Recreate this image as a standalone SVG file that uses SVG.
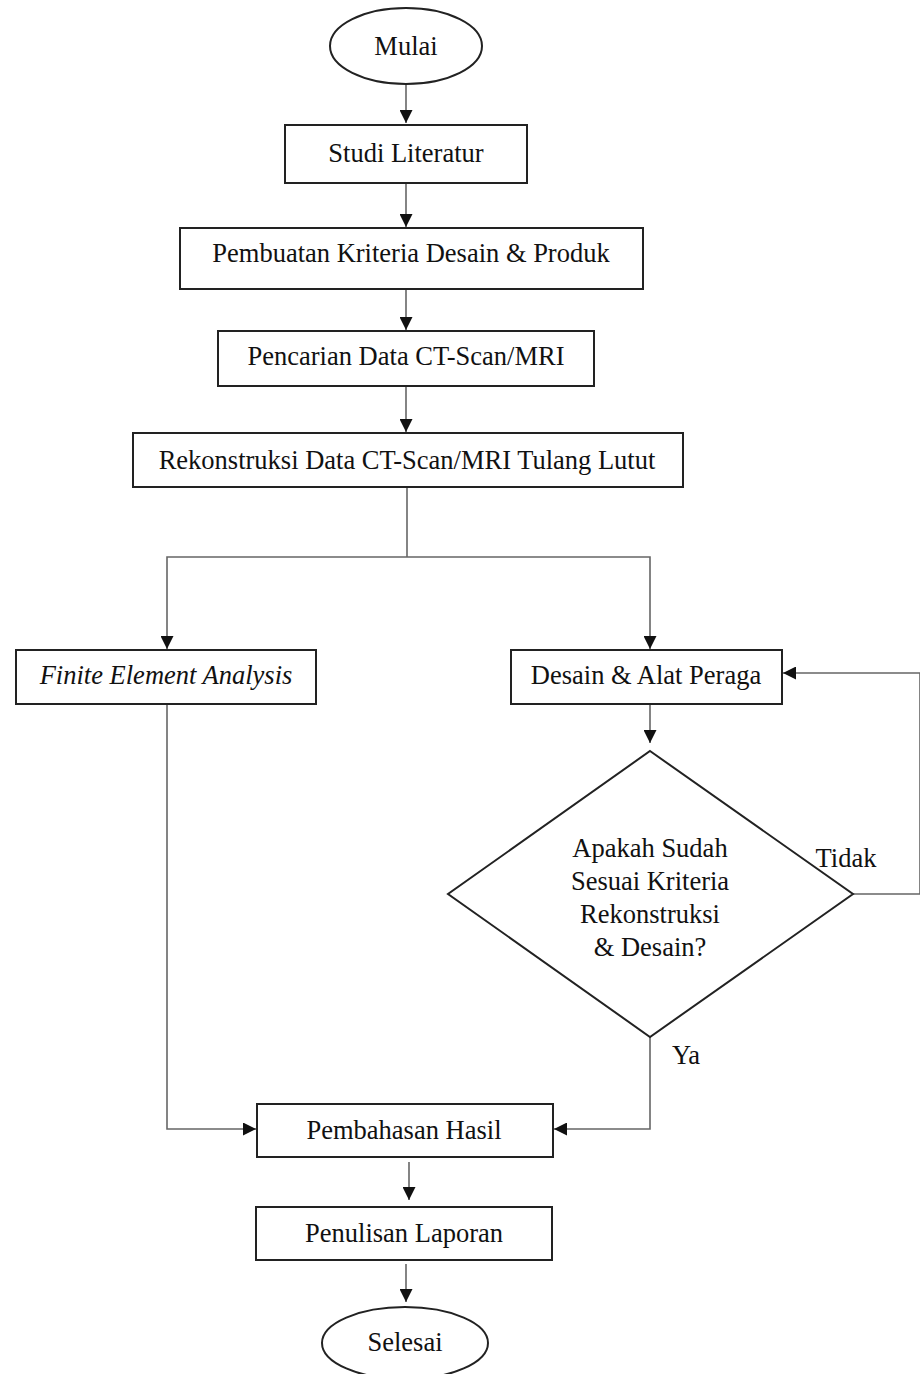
<svg xmlns="http://www.w3.org/2000/svg" width="920" height="1374" viewBox="0 0 920 1374">
<style>
.box{fill:#fff;stroke:#222;stroke-width:2}
.t{font-family:"Liberation Serif","Times New Roman",serif;font-size:26.5px;fill:#111;text-anchor:middle;dominant-baseline:central}
.c{fill:none;stroke:#666;stroke-width:1.6}
</style>
<defs>
<marker id="ah" viewBox="0 0 10 10" refX="10" refY="5" markerWidth="13" markerHeight="13" markerUnits="userSpaceOnUse" orient="auto">
<path d="M0,0 L10,5 L0,10 Z" fill="#111"/>
</marker>
</defs>
<rect width="920" height="1374" fill="#fff"/>
<g id="connectors">
<path class="c" d="M406,84 V123" marker-end="url(#ah)"/>
<path class="c" d="M406,183 V227" marker-end="url(#ah)"/>
<path class="c" d="M406,289 V330" marker-end="url(#ah)"/>
<path class="c" d="M406,386 V432" marker-end="url(#ah)"/>
<path class="c" d="M407,487 V557"/>
<path class="c" d="M407,557 H167 V649" marker-end="url(#ah)"/>
<path class="c" d="M407,557 H650 V649" marker-end="url(#ah)"/>
<path class="c" d="M650,704 V743" marker-end="url(#ah)"/>
<path class="c" d="M853,894 H920 V673 H783" marker-end="url(#ah)"/>
<path class="c" d="M650,1037 V1129 H554" marker-end="url(#ah)"/>
<path class="c" d="M167,704 V1129 H256" marker-end="url(#ah)"/>
<path class="c" d="M409,1162 V1200" marker-end="url(#ah)"/>
<path class="c" d="M406,1264 V1302" marker-end="url(#ah)"/>
<text class="t" x="846" y="858">Tidak</text>
<text class="t" x="686" y="1055">Ya</text>
</g>
<g id="mulai"><ellipse class="box" cx="406" cy="46" rx="76" ry="38"/><text class="t" x="406" y="46">Mulai</text></g>
<g id="studi"><rect class="box" x="285" y="125" width="242" height="58"/><text class="t" x="406" y="153">Studi Literatur</text></g>
<g id="kriteria"><rect class="box" x="180" y="228" width="463" height="61"/><text class="t" x="411" y="253">Pembuatan Kriteria Desain &amp; Produk</text></g>
<g id="pencarian"><rect class="box" x="218" y="331" width="376" height="55"/><text class="t" x="406" y="356">Pencarian Data CT-Scan/MRI</text></g>
<g id="rekonstruksi"><rect class="box" x="133" y="433" width="550" height="54"/><text class="t" x="407" y="460">Rekonstruksi Data CT-Scan/MRI Tulang Lutut</text></g>
<g id="fea"><rect class="box" x="16" y="650" width="300" height="54"/><text class="t" x="166" y="675" font-style="italic">Finite Element Analysis</text></g>
<g id="desain"><rect class="box" x="511" y="650" width="271" height="54"/><text class="t" x="646" y="675">Desain &amp; Alat Peraga</text></g>
<g id="keputusan"><polygon class="box" points="650,751 853,894 650,1037 448,894"/>
<text class="t" x="650" y="848">Apakah Sudah</text>
<text class="t" x="650" y="881">Sesuai Kriteria</text>
<text class="t" x="650" y="914">Rekonstruksi</text>
<text class="t" x="650" y="947">&amp; Desain?</text></g>
<g id="pembahasan"><rect class="box" x="257" y="1104" width="296" height="53"/><text class="t" x="404" y="1130">Pembahasan Hasil</text></g>
<g id="penulisan"><rect class="box" x="256" y="1207" width="296" height="53"/><text class="t" x="404" y="1233">Penulisan Laporan</text></g>
<g id="selesai"><ellipse class="box" cx="405" cy="1343" rx="83" ry="36"/><text class="t" x="405" y="1342">Selesai</text></g>
</svg>
